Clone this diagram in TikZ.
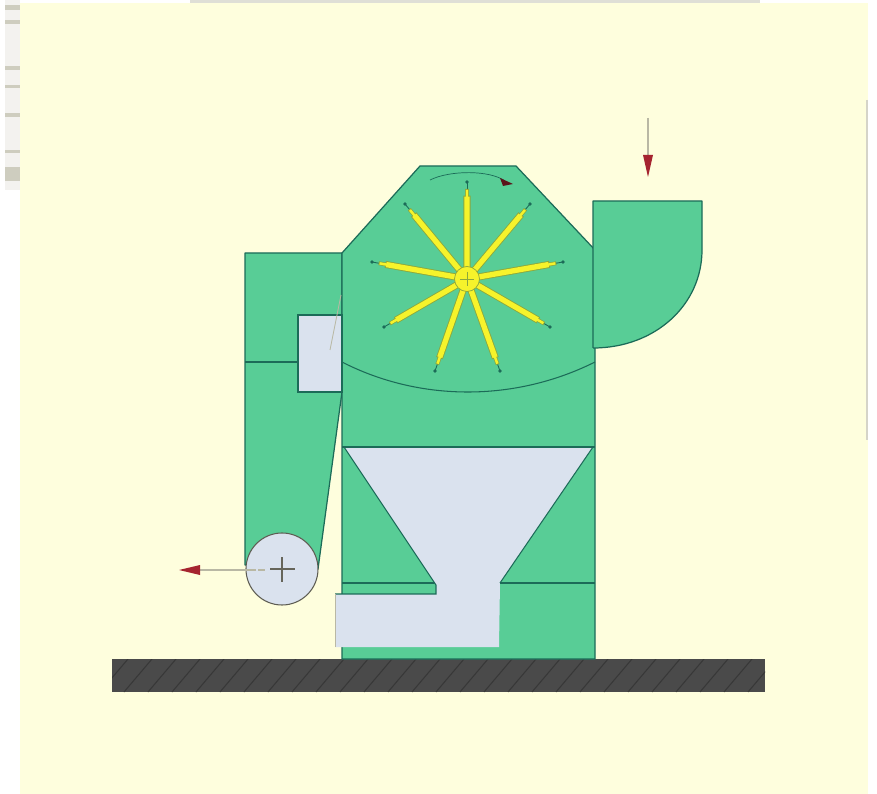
\documentclass[tikz,border=0pt]{standalone}
\usepackage{tikz}
\usetikzlibrary{arrows.meta, calc}
\definecolor{Cream}{HTML}{FEFEDD}
\definecolor{Rough}{HTML}{B9B8A4}
\definecolor{BodyGreen}{HTML}{58CD96}
\definecolor{EdgeGreen}{HTML}{1C6B58}
\definecolor{PanelBlue}{HTML}{DAE2EE}
\definecolor{SlabGray}{HTML}{4A4A4A}
\definecolor{HatchGray}{HTML}{383838}
\definecolor{ArrowRed}{HTML}{A5242F}
\definecolor{SpokeYellow}{HTML}{F6F32B}
\definecolor{SpokeEdge}{HTML}{8DA83C}
\tikzset{
  greenpart/.style={fill=BodyGreen, draw=EdgeGreen, line width=0.7pt, line join=round},
  greypart/.style={fill=PanelBlue, draw=none},
  partline/.style={draw=EdgeGreen, line width=0.6pt},
  flowline/.style={draw=Rough, line width=0.7pt},
  flowhead/.style={fill=ArrowRed, draw=none}
}
\begin{document}
\begin{tikzpicture}[x=0.02cm, y=-0.02cm]
  \useasboundingbox (0,0) rectangle (877,794);
  % Sheet
  \fill[white] (0,0) rectangle (877,794);
  \fill[Rough!45] (190,0) rectangle (760,3);
  \foreach \y/\h in {5/8, 18/6, 60/5, 85/4, 112/6, 148/5, 165/16}{
    \fill[Rough!60] (5,\y) rectangle (20,\y+\h);
  }
  \fill[Rough!18] (5,0) rectangle (20,190);
  \foreach \y/\h in {5/5, 20/4, 66/4, 85/3, 113/4, 150/3, 167/14}{
    \fill[Rough!70] (5,\y) rectangle (20,\y+\h);
  }
  \fill[Cream] (20,3) rectangle (868,794);
  % Right margin line
  \draw[Rough!60, line width=0.6pt] (867,100) -- (867,440);
  % Floor slab
  \fill[SlabGray] (112,659) rectangle (765,692);
  \begin{scope}
    \clip (112,659) rectangle (765,692);
    \foreach \x in {100,124,...,780}{
      \draw[HatchGray, line width=0.6pt] (\x,692) -- (\x+28,659);
    }
  \end{scope}
  % Back duct
  \draw[greenpart] (245,565) -- (245,253) -- (342,253) -- (342,392) -- (318,569) -- cycle;
  \draw[partline] (245,362) -- (298,362);
  % Housing
  \draw[greenpart] (342,253) -- (420,166) -- (516,166) -- (595,250)
    -- (595,659) -- (342,659) -- cycle;
  % Inlet
  \draw[greenpart] (593,348) -- (593,201) -- (702,201) -- (702,250)
    .. controls (702,305) and (655,348) .. (593,348);
  % Screen curve
  \draw[partline] (342,362) .. controls (420,402) and (515,402) .. (595,362);
  % Hopper
  \draw[partline] (342,583) -- (595,583);
  \fill[greypart] (344,447) -- (593,447) -- (500,583) -- (499,647) -- (335,647)
    -- (335,594) -- (436,594) -- (436,585) -- cycle;
  \draw[partline] (342,447) -- (595,447);
  \draw[partline] (344,447) -- (436,585) -- (436,594) -- (335,594);
  \draw[partline] (593,447) -- (500,583);
  \draw[Rough, line width=0.5pt] (335,594) -- (335,647);
  % Access panel
  \draw[greypart, draw=EdgeGreen, line width=0.6pt] (298,315) rectangle (342,392);
  \draw[Rough, line width=0.5pt] (341,295) -- (330,350);
  % Rotor
  \coordinate (hub) at (467,279);
  \foreach \tx/\ty in {467/182, 405/204, 530/204, 372/262, 563/262, 384/327, 550/327, 435/371, 500/371}{
    \coordinate (tip) at (\tx,\ty);
    \draw[EdgeGreen, line width=0.5pt] (hub) -- (tip);
    \draw[SpokeEdge, line width=4pt] (hub) -- ($(hub)!0.86!(tip)$);
    \draw[SpokeEdge, line width=2.2pt] (hub) -- ($(hub)!0.93!(tip)$);
    \draw[SpokeYellow, line width=3pt] (hub) -- ($(hub)!0.85!(tip)$);
    \draw[SpokeYellow, line width=1.4pt] (hub) -- ($(hub)!0.92!(tip)$);
    \fill[EdgeGreen] (tip) circle (1.8);
  }
  \fill[SpokeYellow, draw=SpokeEdge, line width=0.4pt] (hub) circle (12.5);
  \draw[SpokeEdge, line width=0.3pt] (460,279) -- (474,279) (467,272) -- (467,286);
  % Rotation arrow
  \draw[partline, line width=0.4pt] (430,180) .. controls (450,170) and (490,170) .. (505,181);
  \fill[ArrowRed!55!black] (500,178) -- (513,184) -- (503,186) -- cycle;
  % Pulley
  \draw[fill=PanelBlue, draw=Rough!50!black, line width=0.6pt] (282,569) circle (36);
  \draw[Rough!55!black, line width=0.7pt] (270,569) -- (295,569) (282,557) -- (282,582);
  % Flow arrows
  \draw[flowline] (648,118) -- (648,160);
  \fill[flowhead] (643,155) -- (653,155) -- (648,177) -- cycle;
  \draw[flowline] (256,570) -- (198,570);
  \draw[flowline] (258,570) -- (265,570);
  \fill[flowhead] (200,565) -- (200,575) -- (179,570) -- cycle;
\end{tikzpicture}
\end{document}
